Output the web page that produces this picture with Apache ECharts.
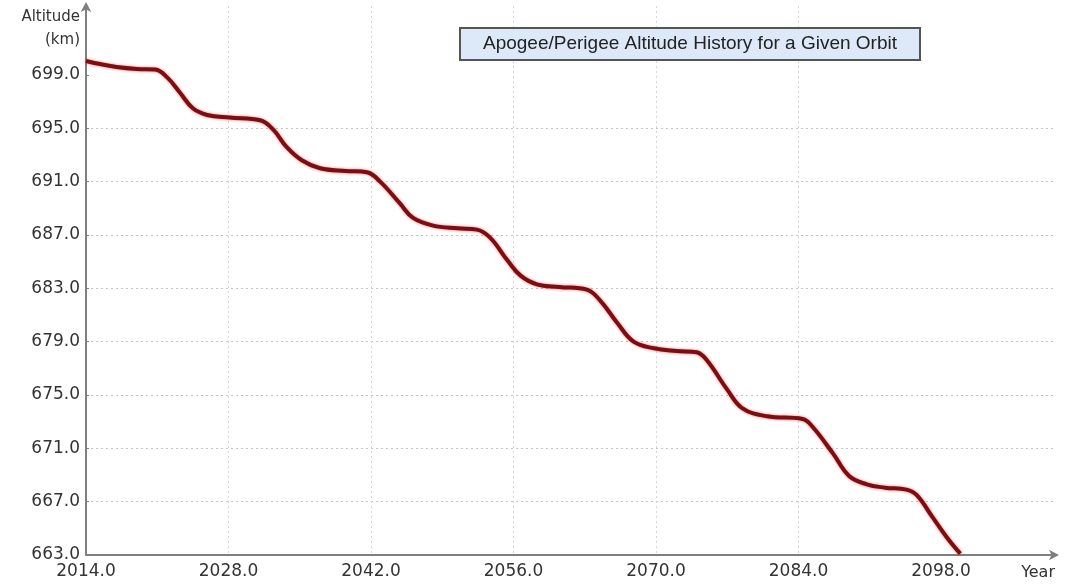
<!DOCTYPE html>
<html>
<head>
<meta charset="utf-8">
<script src="https://cdn.jsdelivr.net/npm/echarts@6/dist/echarts.min.js"></script>
<style>
html,body{margin:0;padding:0;background:#fff;}
#chart{width:1070px;height:585px;}
</style>
</head>
<body>
<div id="chart"></div>
<script>
// ---- data ----
const years = [2014.0, 2015.5, 2017.0, 2019.0, 2020.8, 2022.0, 2023.2, 2024.5, 2025.9, 2028.1,
  2031.1, 2032.4, 2033.7, 2035.2, 2037.0, 2039.5, 2041.6, 2042.9, 2044.8, 2046.1,
  2048.1, 2050.5, 2052.4, 2053.7, 2055.4, 2056.7, 2058.3, 2060.5, 2063.2, 2064.5,
  2066.2, 2067.8, 2069.8, 2072.0, 2074.0, 2075.0, 2077.0, 2078.5, 2080.9, 2084.4,
  2085.4, 2087.4, 2089.0, 2090.7, 2092.5, 2094.6, 2095.6, 2097.2, 2098.6, 2099.9];
const altitudeKm = [700.05, 699.8, 699.6, 699.45, 699.4, 698.8, 697.7, 696.5, 696.0, 695.8,
  695.6, 694.9, 693.6, 692.6, 692.0, 691.8, 691.7, 691.0, 689.4, 688.3,
  687.7, 687.5, 687.4, 686.8, 685.1, 683.95, 683.3, 683.1, 682.9, 682.1,
  680.4, 679.0, 678.5, 678.3, 678.2, 677.6, 675.4, 674.0, 673.4, 673.2,
  672.6, 670.6, 668.9, 668.3, 668.05, 667.9, 667.5, 665.8, 664.3, 663.1];
const xTicks = [2014, 2028, 2042, 2056, 2070, 2084, 2098];
const yTicks = [663, 667, 671, 675, 679, 683, 687, 691, 695, 699];
const xMin = 2014, xMax = 2109.2;
const yMin = 663, yMax = 704.17;
const titleText = 'Apogee/Perigee Altitude History for a Given Orbit';
const xName = 'Year';
const yName = 'Altitude\n(km)';

const seriesData = years.map((y, i) => [y, altitudeKm[i]]);

const labelFont = 'DejaVu Sans';
const chart = echarts.init(document.getElementById('chart'));
chart.setOption({
  backgroundColor: '#ffffff',
  animation: false,
  title: {
    text: titleText,
    left: 460, top: 28,
    padding: [6, 23, 7, 23],
    backgroundColor: '#dde9f8',
    borderColor: '#555555',
    borderWidth: 2,
    textStyle: { fontFamily: 'Liberation Sans', fontSize: 19, fontWeight: 'normal', color: '#222' }
  },
  grid: { left: 86, right: 15, top: 6, bottom: 30, containLabel: false, outerBoundsMode: 'none' },
  xAxis: {
    type: 'value',
    min: xMin, max: xMax,
    name: xName,
    nameLocation: 'end',
    nameGap: 0,
    nameTextStyle: { fontFamily: labelFont, fontSize: 16, color: '#333', align: 'right', verticalAlign: 'top', padding: [10, 0, 0, 0] },
    axisLine: { lineStyle: { color: '#7f7f7f', width: 2 }, symbol: ['none', 'arrow'], symbolSize: [8, 10], symbolOffset: [0, 4] },
    axisTick: { show: false, customValues: xTicks },
    axisLabel: {
      fontFamily: labelFont, fontSize: 17, color: '#333', margin: 8,
      customValues: xTicks,
      formatter: v => v.toFixed(1)
    },
    splitLine: { show: true, showMinLine: false, showMaxLine: false, lineStyle: { color: '#d6d6d6', type: [2, 3], width: 1 } }
  },
  yAxis: {
    type: 'value',
    min: yMin, max: yMax,
    name: yName,
    nameLocation: 'end',
    nameGap: 0,
    nameTextStyle: { fontFamily: labelFont, fontSize: 15, color: '#333', align: 'right', verticalAlign: 'top', lineHeight: 23, padding: [0, 6, 0, 0] },
    axisLine: { show: true, lineStyle: { color: '#7f7f7f', width: 2 }, symbol: ['none', 'arrow'], symbolSize: [8, 10], symbolOffset: [0, 4] },
    axisTick: { show: true, inside: true, length: 3, lineStyle: { color: '#7f7f7f' }, customValues: yTicks },
    axisLabel: {
      fontFamily: labelFont, fontSize: 17, color: '#333', margin: 6,
      customValues: yTicks,
      formatter: v => v.toFixed(1)
    },
    splitLine: { show: true, showMinLine: false, showMaxLine: false, lineStyle: { color: '#c4c4c4', type: [2, 3], width: 1 } }
  },
  series: [{
    type: 'line',
    data: seriesData,
    smooth: 0.4,
    showSymbol: false,
    lineStyle: { color: '#7a0e12', width: 4, shadowColor: 'rgba(230,20,20,0.6)', shadowBlur: 3 }
  }]
});
</script>
</body>
</html>
